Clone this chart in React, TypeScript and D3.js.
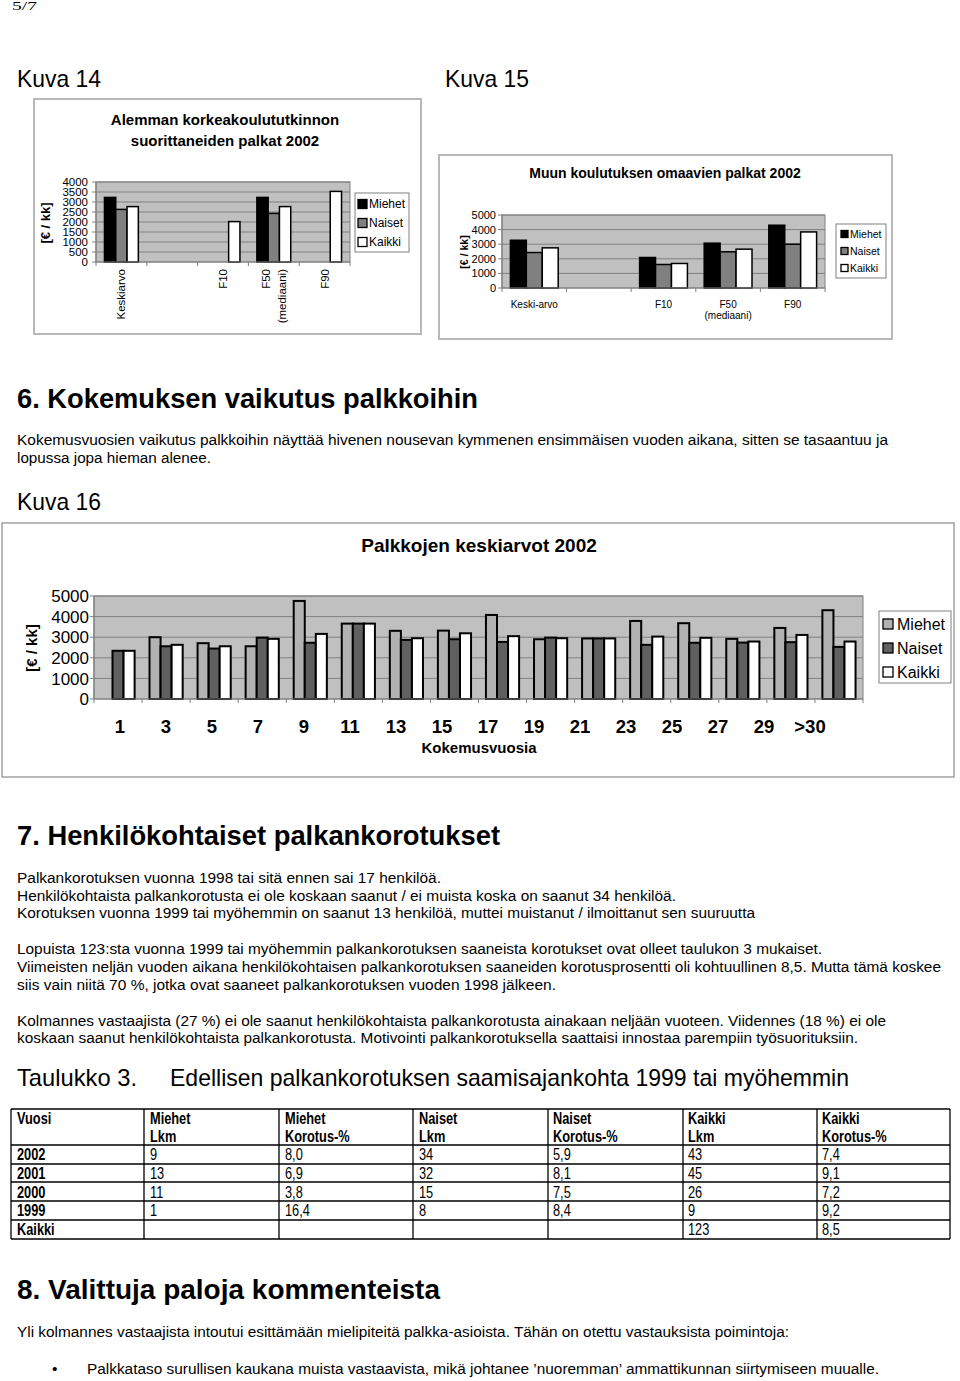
import React from 'react';
import * as d3 from 'd3';

// ---------- DATA ----------
const seriesNames = ['Miehet', 'Naiset', 'Kaikki'];

// Kuva 14
const k14Categories = ['Keskiarvo', 'gap', 'F10', 'F50', 'F90'];
const k14Labels = [['Keskiarvo'], [''], ['F10'], ['F50', '(mediaani)'], ['F90']];
const k14Miehet = [3230, null, null, 3230, null];
const k14Naiset = [2630, null, null, 2430, null];
const k14Kaikki = [2770, null, 2020, 2770, 3530];
const k14YTicks = [0, 500, 1000, 1500, 2000, 2500, 3000, 3500, 4000];

// Kuva 15
const k15Categories = ['Keski-arvo', 'gap', 'F10', 'F50', 'F90'];
const k15Labels = [['Keski-arvo'], [''], ['F10'], ['F50', '(mediaani)'], ['F90']];
const k15Miehet = [3270, null, 2090, 3070, 4300];
const k15Naiset = [2430, null, 1610, 2480, 3000];
const k15Kaikki = [2750, null, 1680, 2660, 3840];
const k15YTicks = [0, 1000, 2000, 3000, 4000, 5000];

// Kuva 16
const k16Categories = ['1', '3', '5', '7', '9', '11', '13', '15', '17', '19', '21', '23', '25', '27', '29', '>30'];
const k16Miehet = [null, 3000, 2710, 2560, 4760, 3660, 3310, 3320, 4080, 2900, 2940, 3790, 3680, 2920, 3450, 4310];
const k16Naiset = [2340, 2560, 2450, 2980, 2730, 3660, 2870, 2900, 2770, 2980, 2940, 2630, 2730, 2740, 2760, 2530];
const k16Kaikki = [2340, 2630, 2560, 2920, 3160, 3660, 2950, 3190, 3050, 2950, 2940, 3030, 2970, 2790, 3110, 2790];
const k16YTicks = [0, 1000, 2000, 3000, 4000, 5000];

// Taulukko 3
const tableHead1 = ['Vuosi', 'Miehet', 'Miehet', 'Naiset', 'Naiset', 'Kaikki', 'Kaikki'];
const tableHead2 = ['', 'Lkm', 'Korotus-%', 'Lkm', 'Korotus-%', 'Lkm', 'Korotus-%'];
const tableRows = [
  ['2002', '9', '8,0', '34', '5,9', '43', '7,4'],
  ['2001', '13', '6,9', '32', '8,1', '45', '9,1'],
  ['2000', '11', '3,8', '15', '7,5', '26', '7,2'],
  ['1999', '1', '16,4', '8', '8,4', '9', '9,2'],
  ['Kaikki', '', '', '', '', '123', '8,5'],
];

// ---------- STYLE ----------
const CHART_FONT = "'Liberation Sans', Arial, Helvetica, sans-serif";
const DOC_FONT = "'Liberation Sans', Arial, Helvetica, sans-serif";

type Series = { name: string; values: (number | null)[]; fill: string };

function BarChart(p: any) {
  const { box, plot, yMax, yTicks, gridTicks, categories, series, groupFrac } = p;
  const x = d3.scaleBand().domain(categories).range([plot.left, plot.right]).paddingInner(0).paddingOuter(0);
  const bw = x.bandwidth();
  const gw = bw * groupFrac;
  const xs = d3.scaleBand().domain(series.map((s: Series) => s.name)).range([(bw - gw) / 2, (bw + gw) / 2]);
  const y = d3.scaleLinear().domain([0, yMax]).range([plot.bottom, plot.top]);
  const boundaries = categories.map((c: string) => x(c) as number).concat([plot.right]);
  const labelX = p.labelScale ? p.labelScale : (c: string) => (x(c) as number) + bw / 2;

  return (
    <g fontFamily={CHART_FONT}>
      <rect x={box.x} y={box.y} width={box.w} height={box.h} fill="#fff" stroke={box.stroke} strokeWidth={box.sw} />
      {p.titleLines.map((t: string, i: number) => (
        <text key={'t' + i} x={p.titleX} y={p.titleY + i * p.titleDy} textAnchor="middle" fontSize={p.titleSize} fontWeight="bold" fill="#000">{t}</text>
      ))}
      <rect x={plot.left} y={plot.top} width={plot.right - plot.left} height={plot.bottom - plot.top} fill="#c0c0c0" stroke="#808080" strokeWidth={1} />
      {gridTicks.filter((t: number) => t > 0).map((t: number) => (
        <line key={'g' + t} x1={plot.left} x2={plot.right} y1={y(t)} y2={y(t)} stroke="#808080" strokeWidth={1} />
      ))}
      {categories.map((c: string, i: number) =>
        series.map((s: Series) => {
          const v = s.values[i];
          if (v === null || v === undefined) return null;
          return (
            <rect key={c + s.name} x={(x(c) as number) + (xs(s.name) as number)} y={y(v)} width={xs.bandwidth()} height={y(0) - y(v)}
              fill={s.fill} stroke="#000" strokeWidth={p.barStroke} />
          );
        })
      )}
      <line x1={plot.left} x2={plot.left} y1={plot.top} y2={plot.bottom} stroke="#808080" strokeWidth={1.2} />
      <line x1={plot.left} x2={plot.right} y1={plot.bottom} y2={plot.bottom} stroke="#808080" strokeWidth={1.2} />
      {yTicks.map((t: number) => (
        <g key={'yt' + t}>
          <line x1={plot.left - 4} x2={plot.left} y1={y(t)} y2={y(t)} stroke="#808080" strokeWidth={1} />
          <text x={p.yLabelX} y={y(t)} dy="0.36em" textAnchor="end" fontSize={p.tickSize} fill="#000">{t}</text>
        </g>
      ))}
      {boundaries.map((b: number, i: number) => (
        <line key={'xt' + i} x1={b} x2={b} y1={plot.bottom} y2={plot.bottom + 4} stroke="#808080" strokeWidth={1} />
      ))}
      {categories.map((c: string, i: number) => {
        const lines: string[] = p.labels[i];
        const cx = labelX(c);
        if (p.rotatedLabels) {
          return lines.map((l: string, j: number) => {
            const off = (j - (lines.length - 1) / 2) * p.labelLineGap;
            return (
              <text key={'xl' + i + j} transform={`translate(${cx + off},${p.labelY}) rotate(-90)`} dy="0.35em" textAnchor="end" fontSize={p.labelSize} fill="#000">{l}</text>
            );
          });
        }
        return lines.map((l: string, j: number) => (
          <text key={'xl' + i + j} x={cx} y={p.labelY + j * p.labelLineGap} textAnchor="middle" fontSize={p.labelSize} fontWeight={p.labelWeight || 'normal'} fill="#000">{l}</text>
        ));
      })}
      {p.xTitle && (
        <text x={p.xTitle.x} y={p.xTitle.y} textAnchor="middle" fontSize={p.xTitle.size} fontWeight="bold" fill="#000">{p.xTitle.text}</text>
      )}
      <text transform={`translate(${p.yTitle.x},${p.yTitle.y}) rotate(-90)`} dy="0.35em" textAnchor="middle" fontSize={p.yTitle.size} fontWeight="bold" fill="#000">[€ / kk]</text>
      <rect x={p.legend.x} y={p.legend.y} width={p.legend.w} height={p.legend.h} fill="#fff" stroke="#808080" strokeWidth={1} />
      {series.map((s: Series, i: number) => (
        <g key={'lg' + s.name}>
          <rect x={p.legend.mx} y={p.legend.ys[i] - p.legend.ms / 2} width={p.legend.ms} height={p.legend.ms} fill={s.fill} stroke="#000" strokeWidth={1.3} />
          <text x={p.legend.tx} y={p.legend.ys[i]} dy="0.36em" fontSize={p.legend.size} fill="#000">{s.name}</text>
        </g>
      ))}
    </g>
  );
}

function T(props: any) {
  const { x, y, size, w, bold, children } = props;
  return (
    <text x={x} y={y} fontSize={size} fontWeight={bold ? 'bold' : 'normal'} fontFamily={DOC_FONT} fill="#000"
      textLength={w} lengthAdjust={w ? 'spacingAndGlyphs' : undefined}>{children}</text>
  );
}

function Cell(props: any) {
  const { x, y, bold, children } = props;
  return (
    <text transform={`translate(${x},${y}) scale(0.8,1)`} fontSize={16} fontWeight={bold ? 'bold' : 'normal'} fontFamily={DOC_FONT} fill="#000">{children}</text>
  );
}

export default function App() {
  const k14Series: Series[] = [
    { name: seriesNames[0], values: k14Miehet, fill: '#000000' },
    { name: seriesNames[1], values: k14Naiset, fill: '#808080' },
    { name: seriesNames[2], values: k14Kaikki, fill: '#ffffff' },
  ];
  const k15Series: Series[] = [
    { name: seriesNames[0], values: k15Miehet, fill: '#000000' },
    { name: seriesNames[1], values: k15Naiset, fill: '#808080' },
    { name: seriesNames[2], values: k15Kaikki, fill: '#ffffff' },
  ];
  const k16Series: Series[] = [
    { name: seriesNames[0], values: k16Miehet, fill: '#b2b2b2' },
    { name: seriesNames[1], values: k16Naiset, fill: '#606060' },
    { name: seriesNames[2], values: k16Kaikki, fill: '#ffffff' },
  ];
  const k16LabelScale = d3.scalePoint().domain(k16Categories).range([120, 810]);

  const colX = [17, 150, 285, 419, 553, 688, 822];
  const colB = [11, 144, 279, 413, 548, 683, 817, 950];
  const rowB = [1109, 1145, 1164, 1182, 1201, 1220, 1239];

  return (
    <div style={{ position: 'absolute', left: 0, top: 0 }}>
      <svg width={960} height={1381} style={{ display: 'block', background: '#fff' }}>
        <rect x={0} y={0} width={960} height={1381} fill="#fff" />
        <text x={12} y={10} fontSize={12} fontFamily="'Liberation Serif', serif" textLength={25} lengthAdjust="spacingAndGlyphs">5/7</text>
        <T x={17} y={87} size={24} w={84}>Kuva 14</T>
        <T x={445} y={87} size={24} w={84}>Kuva 15</T>

        <BarChart
          box={{ x: 34, y: 99, w: 387, h: 235, stroke: '#b8b8b8', sw: 2 }}
          plot={{ left: 96, right: 350, top: 182, bottom: 262 }}
          yMax={4000} yTicks={k14YTicks} gridTicks={k14YTicks}
          categories={k14Categories} labels={k14Labels} series={k14Series} groupFrac={0.667} barStroke={1.5}
          titleLines={['Alemman korkeakoulututkinnon', 'suorittaneiden palkat 2002']} titleX={225} titleY={125} titleDy={21} titleSize={15}
          yLabelX={88} tickSize={11.5}
          rotatedLabels labelY={269} labelSize={11.5} labelLineGap={16}
          yTitle={{ x: 45, y: 223, size: 13 }}
          legend={{ x: 355, y: 193, w: 54, h: 59, mx: 358, ms: 9, tx: 369, size: 12, ys: [204, 223, 242] }}
        />

        <BarChart
          box={{ x: 439, y: 155, w: 453, h: 184, stroke: '#b8b8b8', sw: 2 }}
          plot={{ left: 502, right: 825, top: 215, bottom: 288 }}
          yMax={5000} yTicks={k15YTicks} gridTicks={k15YTicks}
          categories={k15Categories} labels={k15Labels} series={k15Series} groupFrac={0.74} barStroke={1.5}
          titleLines={['Muun koulutuksen omaavien palkat  2002']} titleX={665} titleY={178} titleDy={0} titleSize={14}
          yLabelX={496} tickSize={11}
          labelY={308} labelSize={10} labelLineGap={11}
          yTitle={{ x: 464, y: 252, size: 10.5 }}
          legend={{ x: 836, y: 224, w: 50, h: 54, mx: 841, ms: 7, tx: 850, size: 10.5, ys: [234, 251, 268] }}
        />

        <T x={17} y={408} size={28} w={461} bold>6.  Kokemuksen vaikutus palkkoihin</T>
        <T x={17} y={445} size={15.5} w={871}>Kokemusvuosien vaikutus palkkoihin  näyttää hivenen nousevan kymmenen ensimmäisen vuoden aikana, sitten se tasaantuu ja</T>
        <T x={17} y={463} size={15.5} w={194}>lopussa jopa hieman alenee.</T>
        <T x={17} y={510} size={24} w={84}>Kuva 16</T>

        <BarChart
          box={{ x: 2, y: 523, w: 952, h: 254, stroke: '#8a8a8a', sw: 1.2 }}
          plot={{ left: 94, right: 863, top: 596, bottom: 699 }}
          yMax={5000} yTicks={k16YTicks} gridTicks={k16YTicks}
          categories={k16Categories} labels={k16Categories.map((c) => [c])} series={k16Series} groupFrac={0.69} barStroke={2}
          labelScale={(c: string) => k16LabelScale(c) as number}
          titleLines={['Palkkojen keskiarvot 2002']} titleX={479} titleY={552} titleDy={0} titleSize={19}
          yLabelX={89} tickSize={17}
          labelY={733} labelSize={18.5} labelWeight="bold" labelLineGap={0}
          xTitle={{ x: 479, y: 753, size: 15, text: 'Kokemusvuosia' }}
          yTitle={{ x: 32, y: 648, size: 15 }}
          legend={{ x: 879, y: 611, w: 72, h: 72, mx: 883, ms: 10, tx: 897, size: 16, ys: [624, 648, 672] }}
        />

        <T x={17} y={845} size={28} w={483} bold>7.  Henkilökohtaiset palkankorotukset</T>
        <T x={17} y={883} size={15.5} w={424}>Palkankorotuksen vuonna 1998 tai sitä ennen sai 17 henkilöä.</T>
        <T x={17} y={901} size={15.5} w={659}>Henkilökohtaista palkankorotusta ei ole koskaan saanut / ei muista koska on saanut 34 henkilöä.</T>
        <T x={17} y={918} size={15.5} w={738}>Korotuksen vuonna 1999 tai myöhemmin on saanut 13 henkilöä, muttei muistanut / ilmoittanut sen suuruutta</T>
        <T x={17} y={954} size={15.5} w={805}>Lopuista 123:sta vuonna 1999 tai myöhemmin palkankorotuksen saaneista korotukset ovat olleet taulukon 3 mukaiset.</T>
        <T x={17} y={972} size={15.5} w={924}>Viimeisten neljän vuoden aikana henkilökohtaisen palkankorotuksen saaneiden korotusprosentti oli kohtuullinen 8,5. Mutta tämä koskee</T>
        <T x={17} y={990} size={15.5} w={539}>siis vain niitä 70 %, jotka ovat saaneet  palkankorotuksen vuoden 1998 jälkeen.</T>
        <T x={17} y={1026} size={15.5} w={869}>Kolmannes vastaajista (27 %) ei ole saanut henkilökohtaista palkankorotusta ainakaan neljään vuoteen. Viidennes (18 %) ei ole</T>
        <T x={17} y={1043} size={15.5} w={841}>koskaan saanut henkilökohtaista palkankorotusta. Motivointi palkankorotuksella saattaisi innostaa parempiin työsuorituksiin.</T>
        <T x={17} y={1086} size={24} w={120}>Taulukko 3.</T>
        <T x={170} y={1086} size={24} w={679}>Edellisen palkankorotuksen saamisajankohta 1999 tai myöhemmin</T>

        <g>
          {rowB.map((yy, i) => (
            <line key={'rb' + i} x1={colB[0]} x2={colB[colB.length - 1]} y1={yy} y2={yy} stroke="#000" strokeWidth={1.3} />
          ))}
          {colB.map((xx, i) => (
            <line key={'cb' + i} x1={xx} x2={xx} y1={rowB[0]} y2={rowB[rowB.length - 1]} stroke="#000" strokeWidth={1.3} />
          ))}
          {tableHead1.map((h, i) => (
            <Cell key={'h1' + i} x={colX[i]} y={1124} bold>{h}</Cell>
          ))}
          {tableHead2.map((h, i) => (
            <Cell key={'h2' + i} x={colX[i]} y={1142} bold>{h}</Cell>
          ))}
          {tableRows.map((r, ri) =>
            r.map((v, ci) => (
              <Cell key={'c' + ri + ci} x={colX[ci]} y={1160 + ri * 18.75} bold={ci === 0}>{v}</Cell>
            ))
          )}
        </g>

        <T x={17} y={1299} size={28} w={423} bold>8.  Valittuja paloja kommenteista</T>
        <T x={17} y={1337} size={15.5} w={772}>Yli kolmannes vastaajista intoutui esittämään mielipiteitä palkka-asioista. Tähän on otettu vastauksista poimintoja:</T>
        <T x={52} y={1374} size={15.5}>•</T>
        <T x={87} y={1374} size={15.5} w={792}>Palkkataso surullisen kaukana muista vastaavista, mikä johtanee ’nuoremman’ ammattikunnan siirtymiseen muualle.</T>
      </svg>
    </div>
  );
}
